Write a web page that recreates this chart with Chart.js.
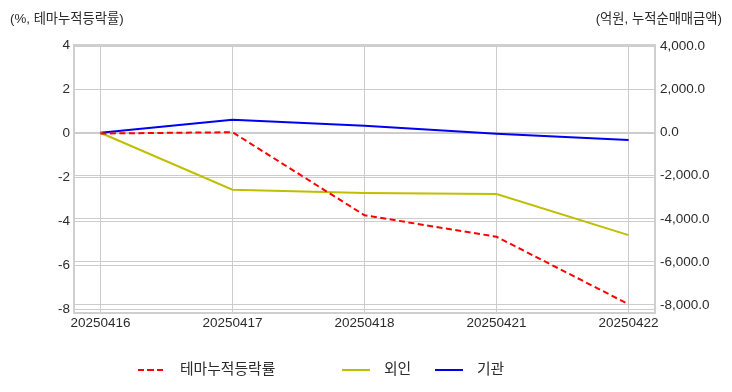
<!DOCTYPE html>
<html>
<head>
<meta charset="utf-8">
<script src="https://cdn.jsdelivr.net/npm/chart.js@4"></script>
<style>
  body { margin: 0; background: #fff; }
  #wrap { position: relative; width: 732px; height: 392px; font-family: "Liberation Sans", "Noto Sans CJK KR", sans-serif; color: #2b2b2b; }
  .ttl { position: absolute; top: 8px; font-size: 13.3px; }
  #legend { position: absolute; top: 359px; left: 0; width: 732px; height: 20px; font-size: 14.8px; }
  .item { position: absolute; top: 0; height: 20px; line-height: 20px; }
  .swatch { position: absolute; top: 10px; width: 28px; height: 0; }
  .lbl { position: absolute; left: 42px; top: 0; white-space: nowrap; }
</style>
</head>
<body>
<div id="wrap">
  <canvas id="chart" width="732" height="392"></canvas>
  <div class="ttl" style="left:10px">(%, 테마누적등락률)</div>
  <div class="ttl" style="right:10px">(억원, 누적순매매금액)</div>
  <div id="legend"></div>
</div>
<script>
const dates = ["20250416", "20250417", "20250418", "20250421", "20250422"];
const themeReturn = [0, 0.06, -3.72, -4.7, -7.77];
const foreignNet = [0, -2650, -2800, -2850, -4760];
const instNet = [0, 600, 320, -50, -340];
const leftTicks = [-8, -6, -4, -2, 0, 2, 4];
const rightTicks = [-8000, -6000, -4000, -2000, 0, 2000, 4000];

const series = [
  { label: "테마누적등락률", data: themeReturn, color: "#ff0000", dash: [6, 3.5], axis: "y" },
  { label: "외인", data: foreignNet, color: "#bfbf00", dash: [], axis: "y2" },
  { label: "기관", data: instNet, color: "#0000ee", dash: [], axis: "y2" }
];

const tickFont = { family: "Liberation Sans", size: 13.5 };
const tickColor = "#2b2b2b";
const gridColor = "#cccccc";

const frame = {
  id: "frame",
  afterDatasetsDraw(chart) {
    const a = chart.chartArea, c = chart.ctx;
    c.save();
    c.strokeStyle = "#cfcfcf";
    c.lineWidth = 2;
    c.strokeRect(a.left, a.top, a.right - a.left, a.bottom - a.top);
    c.restore();
  }
};

new Chart(document.getElementById("chart"), {
  type: "line",
  data: {
    datasets: series.map(s => ({
      label: s.label,
      data: s.data.map((v, i) => ({ x: i, y: v })),
      borderColor: s.color,
      borderDash: s.dash,
      borderWidth: 2,
      pointRadius: 0,
      tension: 0,
      fill: false,
      yAxisID: s.axis
    }))
  },
  options: {
    responsive: false,
    animation: false,
    layout: { padding: { top: 45, left: 0, right: 0, bottom: 0 } },
    plugins: { legend: { display: false }, tooltip: { enabled: false } },
    scales: {
      x: {
        type: "linear",
        min: -0.2,
        max: 4.2,
        afterBuildTicks: s => { s.ticks = dates.map((_, i) => ({ value: i })); },
        afterFit: s => { s.height = 79; },
        ticks: { callback: v => dates[v], font: tickFont, color: tickColor, padding: 2, maxRotation: 0 },
        grid: { color: gridColor, lineWidth: 1, drawTicks: false },
        border: { display: false }
      },
      y: {
        position: "left",
        min: -8.17,
        max: 4.03,
        afterBuildTicks: s => { s.ticks = leftTicks.map(v => ({ value: v })); },
        afterFit: s => { s.width = 74; },
        ticks: { font: tickFont, color: tickColor, padding: 4 },
        grid: { color: gridColor, lineWidth: 1, drawTicks: false },
        border: { display: false }
      },
      y2: {
        position: "right",
        min: -8380,
        max: 4080,
        afterBuildTicks: s => { s.ticks = rightTicks.map(v => ({ value: v })); },
        afterFit: s => { s.width = 77; },
        ticks: {
          font: tickFont, color: tickColor, padding: 5,
          callback: v => v.toLocaleString("en-US", { minimumFractionDigits: 1, maximumFractionDigits: 1 })
        },
        grid: { color: gridColor, lineWidth: 1, drawTicks: false },
        border: { display: false }
      }
    }
  },
  plugins: [frame]
});

// legend below the plot
const legendPos = [138, 342, 435];
const legend = document.getElementById("legend");
series.forEach((s, i) => {
  const item = document.createElement("div");
  item.className = "item";
  item.style.left = legendPos[i] + "px";
  const sw = document.createElement("div");
  sw.className = "swatch";
  if (s.dash.length) {
    sw.style.height = "2px";
    sw.style.background = `repeating-linear-gradient(to right, ${s.color} 0 6px, transparent 6px 9.5px)`;
  } else {
    sw.style.borderTop = "2px solid " + s.color;
  }
  const lb = document.createElement("div");
  lb.className = "lbl";
  lb.textContent = s.label;
  item.appendChild(sw);
  item.appendChild(lb);
  legend.appendChild(item);
});
</script>
</body>
</html>
